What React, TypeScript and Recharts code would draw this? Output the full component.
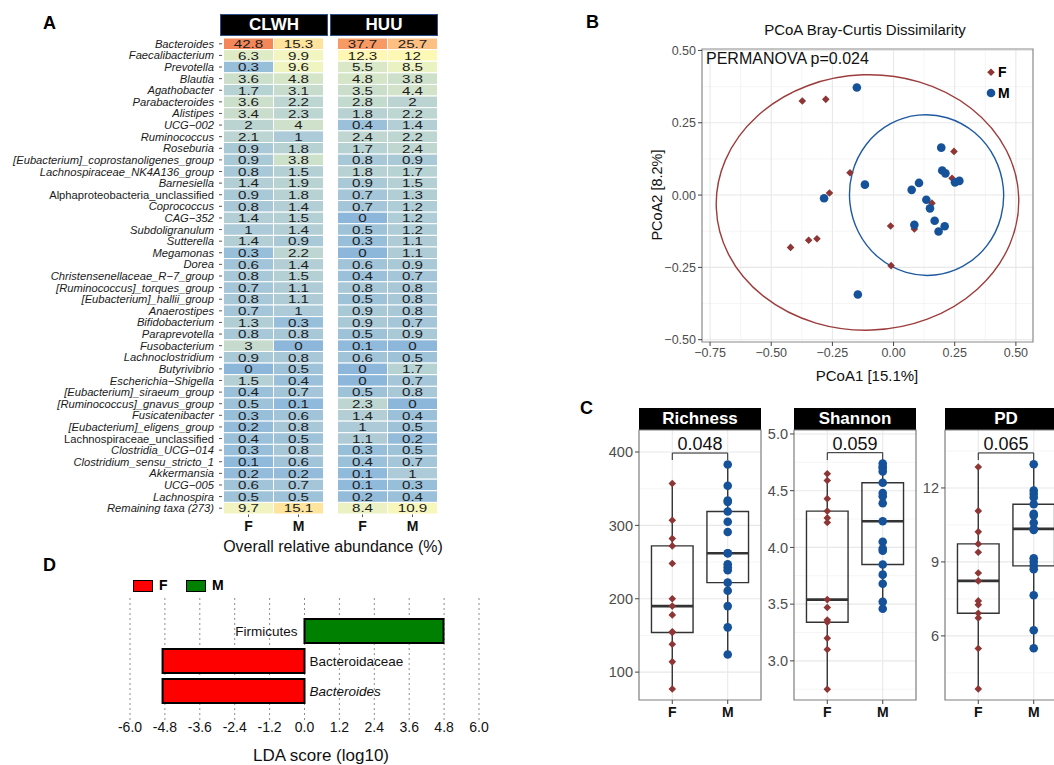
import React from 'react';
import {
  ScatterChart, Scatter, XAxis, YAxis, CartesianGrid, ReferenceArea, ReferenceLine, ReferenceDot,
  BarChart, Bar, Cell, LabelList,
} from 'recharts';

const FONT = '"Liberation Sans", Arial, Helvetica, sans-serif';

// ---------------- Panel A: heatmap data ----------------
const taxa = [
  'Bacteroides', 'Faecalibacterium', 'Prevotella', 'Blautia', 'Agathobacter', 'Parabacteroides', 'Alistipes',
  'UCG\u2212002', 'Ruminococcus', 'Roseburia', '[Eubacterium]_coprostanoligenes_group', 'Lachnospiraceae_NK4A136_group',
  'Barnesiella', 'Alphaproteobacteria_unclassified', 'Coprococcus', 'CAG\u2212352', 'Subdoligranulum', 'Sutterella',
  'Megamonas', 'Dorea', 'Christensenellaceae_R\u22127_group', '[Ruminococcus]_torques_group', '[Eubacterium]_hallii_group',
  'Anaerostipes', 'Bifidobacterium', 'Paraprevotella', 'Fusobacterium', 'Lachnoclostridium', 'Butyrivibrio',
  'Escherichia\u2212Shigella', '[Eubacterium]_siraeum_group', '[Ruminococcus]_gnavus_group', 'Fusicatenibacter',
  '[Eubacterium]_eligens_group', 'Lachnospiraceae_unclassified', 'Clostridia_UCG\u2212014', 'Clostridium_sensu_stricto_1',
  'Akkermansia', 'UCG\u2212005', 'Lachnospira', 'Remaining taxa (273)',
];
const clwhF = [42.8, 6.3, 0.3, 3.6, 1.7, 3.6, 3.4, 2, 2.1, 0.9, 0.9, 0.8, 1.4, 0.9, 0.8, 1.4, 1, 1.4, 0.3, 0.6, 0.8, 0.7, 0.8, 0.7, 1.3, 0.8, 3, 0.9, 0, 1.5, 0.4, 0.5, 0.3, 0.2, 0.4, 0.3, 0.1, 0.2, 0.6, 0.5, 9.7];
const clwhM = [15.3, 9.9, 9.6, 4.8, 3.1, 2.2, 2.3, 4, 1, 1.8, 3.8, 1.5, 1.9, 1.8, 1.4, 1.5, 1.4, 0.9, 2.2, 1.4, 1.5, 1.1, 1.1, 1, 0.3, 0.8, 0, 0.8, 0.5, 0.4, 0.7, 0.1, 0.6, 0.8, 0.5, 0.8, 0.6, 0.2, 0.7, 0.5, 15.1];
const huuF = [37.7, 12.3, 5.5, 4.8, 3.5, 2.8, 1.8, 0.4, 2.4, 1.7, 0.8, 1.8, 0.9, 0.7, 0.7, 0, 0.5, 0.3, 0, 0.6, 0.4, 0.8, 0.5, 0.9, 0.9, 0.5, 0.1, 0.6, 0, 0, 0.5, 2.3, 1.4, 1, 1.1, 0.3, 0.4, 0.1, 0.1, 0.2, 8.4];
const huuM = [25.7, 12, 8.5, 3.8, 4.4, 2, 2.2, 1.4, 2.2, 2.4, 0.9, 1.7, 1.5, 1.3, 1.2, 1.2, 1.2, 1.1, 1.1, 0.9, 0.7, 0.8, 0.8, 0.8, 0.7, 0.9, 0, 0.5, 1.7, 0.7, 0.8, 0, 0.4, 0.5, 0.2, 0.5, 0.7, 1, 0.3, 0.4, 10.9];
const heatGroups = ['CLWH', 'HUU'];
const heatSex = ['F', 'M', 'F', 'M'];
const heatColumns = [clwhF, clwhM, huuF, huuM];
const heatColumnX = [0, 1, 2.28, 3.28];
const nonItalicTaxa = ['Alphaproteobacteria_unclassified', 'Lachnospiraceae_unclassified'];

// ---------------- Panel B: PCoA ----------------
const fPC1 = [-0.373, -0.277, -0.178, -0.262, -0.421, -0.347, -0.313, -0.012, -0.010, 0.085, 0.157, 0.239, 0.247];
const fPC2 = [0.325, 0.331, 0.077, 0.007, -0.181, -0.156, -0.151, -0.107, -0.244, -0.117, -0.028, 0.058, 0.151];
const mPC1 = [-0.150, -0.117, -0.284, -0.146, 0.074, 0.104, 0.134, 0.149, 0.168, 0.085, 0.184, 0.209, 0.195, 0.199, 0.212, 0.251, 0.269];
const mPC2 = [0.372, 0.036, -0.011, -0.344, 0.018, 0.042, -0.016, -0.046, -0.089, -0.103, -0.126, -0.108, 0.164, 0.085, 0.075, 0.044, 0.049];
const pcoaTicks = [-0.75, -0.5, -0.25, 0, 0.25, 0.5];
const pcoaYTicks = [-0.5, -0.25, 0, 0.25, 0.5];
// ellipse bounding boxes [x1, x2, y1, y2]
const fEllipse = [-0.725, 0.512, -0.467, 0.416];
const mEllipse = [-0.18, 0.45, -0.278, 0.278];

// ---------------- Panel C: alpha diversity ----------------
const richF = [357, 307, 282, 272, 248, 200, 190, 178, 155, 154, 138, 114, 77];
const richM = [383, 354, 334, 332, 319, 305, 291, 262, 262, 247, 243, 239, 222, 211, 190, 161, 124];
const shanF = [4.65, 4.59, 4.43, 4.32, 4.26, 4.22, 3.54, 3.47, 3.36, 3.34, 3.20, 3.10, 2.75];
const shanM = [4.74, 4.71, 4.70, 4.67, 4.57, 4.48, 4.45, 4.39, 4.23, 4.05, 3.99, 3.97, 3.85, 3.76, 3.68, 3.52, 3.46];
const pdF = [12.85, 11.07, 10.22, 9.73, 9.39, 8.55, 8.23, 7.42, 7.26, 6.92, 6.73, 5.49, 3.85];
const pdM = [12.96, 11.89, 11.75, 11.61, 11.34, 10.95, 10.88, 10.59, 10.34, 10.30, 9.15, 9.01, 8.84, 8.70, 7.65, 6.23, 5.50];
const alphaTitles = ['Richness', 'Shannon', 'PD'];
const alphaPValues = ['0.048', '0.059', '0.065'];
const alphaBracketY = [398.6, 4.835, 13.42];
const alphaBracketDrop = [9.5, 0.065, 0.29];

// ---------------- Panel D: LEfSe ----------------
const ldaNames = ['Firmicutes', 'Bacteroidaceae', 'Bacteroides'];
const ldaScores = [4.78, -4.88, -4.88];
const ldaGroup = ['M', 'F', 'F'];
const ldaTicks = [-6, -4.8, -3.6, -2.4, -1.2, 0, 1.2, 2.4, 3.6, 4.8, 6];

// ---------------- helpers ----------------
const COL_F = '#8e3535';
const COL_M = '#16529a';

const heatStops: [number, string][] = [
  [0, '#8cb7db'], [0.3, '#98bfda'], [0.8, '#a8c8d8'], [1.5, '#b5d0d4'], [2.5, '#c0d8d0'], [3.5, '#cbdecb'],
  [5, '#d7e6c8'], [7, '#e4eec4'], [10, '#f2f5c0'], [12.2, '#fff8b4'], [15.2, '#fee39c'], [25.7, '#fdbf82'],
  [37.7, '#f89a64'], [42.8, '#f4875a'],
];
function hex(c: string) { return [1, 3, 5].map(i => parseInt(c.slice(i, i + 2), 16)); }
function heatColor(v: number) {
  for (let i = 0; i < heatStops.length - 1; i++) {
    const [a, ca] = heatStops[i];
    const [b, cb] = heatStops[i + 1];
    if (v <= b) {
      const t = Math.max(0, (v - a) / (b - a));
      const A = hex(ca), B = hex(cb);
      const m = A.map((x, k) => Math.round(x + (B[k] - x) * t));
      return `rgb(${m[0]},${m[1]},${m[2]})`;
    }
  }
  return heatStops[heatStops.length - 1][1];
}

function quantile(s: number[], p: number) {
  const h = (s.length - 1) * p;
  const lo = Math.floor(h), hi = Math.ceil(h);
  return s[lo] + (h - lo) * (s[hi] - s[lo]);
}
function boxStats(vals: number[]) {
  const s = [...vals].sort((a, b) => a - b);
  const q1 = quantile(s, 0.25), med = quantile(s, 0.5), q3 = quantile(s, 0.75);
  const iqr = q3 - q1;
  const lo = s.find(v => v >= q1 - 1.5 * iqr) as number;
  const hi = [...s].reverse().find(v => v <= q3 + 1.5 * iqr) as number;
  return { q1, med, q3, lo, hi };
}

const Diamond = (p: any) => {
  const { cx, cy } = p;
  if (cx == null || cy == null) return null;
  const r = 3.8;
  return <polygon points={`${cx},${cy - r} ${cx + r},${cy} ${cx},${cy + r} ${cx - r},${cy}`} fill={COL_F} />;
};
const Dot = (p: any) => {
  const { cx, cy } = p;
  if (cx == null || cy == null) return null;
  return <circle cx={cx} cy={cy} r={4.3} fill={COL_M} />;
};

const HeatCell = (p: any) => {
  const { cx, cy, payload } = p;
  if (cx == null || cy == null) return null;
  const w = 50, h = 476 / 41;
  return (
    <g>
      <rect x={cx - w / 2} y={cy - h / 2} width={w} height={h} fill={heatColor(payload.v)} stroke="#ffffff" strokeWidth={1} />
      <text x={0} y={0} transform={`translate(${cx} ${cy}) scale(1.32 1)`} textAnchor="middle" dy="0.37em"
        fontSize={11.5} fill="#1c1c1c" fontFamily={FONT}>{String(payload.v)}</text>
    </g>
  );
};

const TaxonTick = (p: any) => {
  const { x, y, payload } = p;
  const italic = !nonItalicTaxa.includes(payload.value);
  return (
    <text x={x} y={y} dy="0.36em" textAnchor="end" fontSize={11.2} fontStyle={italic ? 'italic' : 'normal'}
      fill="#1a1a1a" fontFamily={FONT}>{payload.value}</text>
  );
};

const abs = (style: React.CSSProperties): React.CSSProperties => ({ position: 'absolute', ...style });

// ---------------- Panel A ----------------
function PanelA() {
  const series = heatColumns.map((col, ci) => taxa.map((t, ri) => ({ x: heatColumnX[ci], taxon: t, v: col[ri] })));
  return (
    <>
      <div style={abs({ left: 43, top: 13, fontSize: 18, fontWeight: 'bold' })}>A</div>
      {heatGroups.map((g, i) => (
        <div key={g} style={abs({
          left: 220 + i * 110, top: 14, width: 106, height: 20, background: '#000', border: '1.5px solid #2d4f8c',
          color: '#fff', fontWeight: 'bold', fontSize: 17, textAlign: 'center', lineHeight: '20px',
        })}>{g}</div>
      ))}
      <div style={abs({ left: 0, top: 0 })}>
        <ScatterChart width={460} height={560} margin={{ top: 38, right: 20, bottom: 26, left: 0 }}>
          <XAxis type="number" dataKey="x" domain={[-0.53, 3.83]} ticks={heatColumnX} interval={0}
            tickFormatter={(v: number) => heatSex[heatColumnX.indexOf(v)] ?? ''} axisLine={false}
            tickLine={{ stroke: '#555' }} tickSize={3} tickMargin={4} height={20}
            tick={{ fontSize: 14, fontWeight: 'bold', fill: '#111' }} />
          <YAxis type="category" dataKey="taxon" allowDuplicatedCategory={false} reversed width={222} interval={0}
            axisLine={false} tickLine={{ stroke: '#555' }} tickSize={3} tickMargin={5} tick={<TaxonTick />} />
          {series.map((d, i) => (
            <Scatter key={i} data={d} shape={<HeatCell />} isAnimationActive={false} />
          ))}
        </ScatterChart>
      </div>
      <div style={abs({ left: 213, top: 538, width: 240, textAlign: 'center', fontSize: 16, color: '#111' })}>
        Overall relative abundance (%)
      </div>
    </>
  );
}

// ---------------- Panel B ----------------
const EllipseShape = (color: string, rot: number) => (p: any) => {
  const { x, y, width, height } = p;
  const cx = x + width / 2, cy = y + height / 2;
  return <ellipse cx={cx} cy={cy} rx={Math.abs(width) / 2} ry={Math.abs(height) / 2} fill="none" stroke={color}
    strokeWidth={1.4} transform={`rotate(${rot} ${cx} ${cy})`} />;
};

function PanelB() {
  const fData = fPC1.map((v, i) => ({ pc1: v, pc2: fPC2[i] }));
  const mData = mPC1.map((v, i) => ({ pc1: v, pc2: mPC2[i] }));
  const xd: [number, number] = [-0.783, 0.57];
  const yd: [number, number] = [-0.508, 0.505];
  const fmt = (v: number) => v.toFixed(2).replace('-', '\u2212');
  return (
    <>
      <div style={abs({ left: 586, top: 12, fontSize: 18, fontWeight: 'bold' })}>B</div>
      <div style={abs({ left: 700, top: 21, width: 330, textAlign: 'center', fontSize: 15, color: '#111' })}>
        PCoA Bray-Curtis Dissimilarity
      </div>
      <div style={abs({ left: 580, top: 0 })}>
        <ScatterChart width={474} height={395} margin={{ top: 49, right: 21, bottom: 0, left: 62 }}>
          <CartesianGrid horizontalValues={[-0.375, -0.125, 0.125, 0.375]} verticalValues={[-0.625, -0.375, -0.125, 0.125, 0.375]}
            stroke="#f2f2f2" strokeWidth={0.8} />
          <CartesianGrid horizontalValues={pcoaYTicks} verticalValues={pcoaTicks} stroke="#e8e8e8" strokeWidth={1.1} />
          <XAxis type="number" dataKey="pc1" domain={xd} ticks={pcoaTicks} interval={0} allowDataOverflow
            tickFormatter={fmt} axisLine={false} tickLine={{ stroke: '#444' }} tickSize={4} tickMargin={2} height={53}
            tick={{ fontSize: 12.5, fill: '#4d4d4d' }} />
          <YAxis type="number" dataKey="pc2" domain={yd} ticks={pcoaYTicks} interval={0} allowDataOverflow
            tickFormatter={fmt} axisLine={false} tickLine={{ stroke: '#444' }} tickSize={4} tickMargin={2} width={60}
            tick={{ fontSize: 12.5, fill: '#4d4d4d' }} />
          <ReferenceArea x1={xd[0]} x2={xd[1]} y1={yd[0]} y2={yd[1]} fill="none" fillOpacity={0} stroke="#8a8a8a" strokeWidth={1.2} />
          <ReferenceArea x1={fEllipse[0]} x2={fEllipse[1]} y1={fEllipse[2]} y2={fEllipse[3]} shape={EllipseShape('#9c3c3c', -2)} />
          <ReferenceArea x1={mEllipse[0]} x2={mEllipse[1]} y1={mEllipse[2]} y2={mEllipse[3]} shape={EllipseShape('#1f5aa0', -6)} />
          <Scatter name="F" data={fData} shape={<Diamond />} isAnimationActive={false} />
          <Scatter name="M" data={mData} shape={<Dot />} isAnimationActive={false} />
        </ScatterChart>
      </div>
      <div style={abs({ left: 706, top: 50, fontSize: 16, color: '#111' })}>PERMANOVA p=0.024</div>
      <div style={abs({ left: 985, top: 63 })}>
        <svg width={12} height={36}>
          <polygon points="6,5.5 9.8,9.3 6,13.1 2.2,9.3" fill={COL_F} />
          <circle cx={6} cy={30} r={4.3} fill={COL_M} />
        </svg>
      </div>
      <div style={abs({ left: 998, top: 63, fontSize: 14, fontWeight: 'bold', lineHeight: '18px' })}>F</div>
      <div style={abs({ left: 998, top: 84, fontSize: 14, fontWeight: 'bold', lineHeight: '18px' })}>M</div>
      <div style={abs({ left: 767, top: 367, width: 200, textAlign: 'center', fontSize: 15, color: '#111' })}>PCoA1 [15.1%]</div>
      <div style={abs({ left: 557, top: 187, width: 200, textAlign: 'center', fontSize: 14.5, color: '#111', transform: 'rotate(-90deg)' })}>PCoA2 [8.2%]</div>
    </>
  );
}

// ---------------- Panel C ----------------
type FacetProps = {
  left: number; idx: number; f: number[]; m: number[]; domain: [number, number];
  ticks: number[]; minor: number[]; fmt: (v: number) => string;
};
function Facet({ left, idx, f, m, domain, ticks, minor, fmt }: FacetProps) {
  const fs = boxStats(f), ms = boxStats(m);
  const fData = f.map(v => ({ g: 1, v }));
  const mData = m.map(v => ({ g: 2, v }));
  const yAxisW = 55;
  const by = alphaBracketY[idx], drop = alphaBracketDrop[idx];
  const boxes = [{ g: 1, s: fs }, { g: 2, s: ms }];
  return (
    <>
      <div style={abs({
        left, top: 408, width: 122, height: 22, background: '#000', color: '#fff', fontWeight: 'bold',
        fontSize: 17, textAlign: 'center', lineHeight: '22px',
      })}>{alphaTitles[idx]}</div>
      <div style={abs({ left: left - yAxisW, top: 425 })}>
        <ScatterChart width={yAxisW + 122 + 4} height={305} margin={{ top: 5, right: 4, bottom: 0, left: 0 }}>
          <CartesianGrid horizontalValues={minor} vertical={false} stroke="#f3f3f3" strokeWidth={0.8} />
          <CartesianGrid horizontalValues={ticks} verticalValues={[1, 2]} stroke="#e8e8e8" strokeWidth={1.1} />
          <XAxis type="number" dataKey="g" domain={[0.4, 2.6]} ticks={[1, 2]} interval={0}
            tickFormatter={(v: number) => (v === 1 ? 'F' : 'M')} axisLine={false} tickLine={{ stroke: '#444' }}
            tickSize={4} tickMargin={3} height={30} tick={{ fontSize: 14, fontWeight: 'bold', fill: '#111' }} />
          <YAxis type="number" dataKey="v" domain={domain} ticks={ticks} interval={0} allowDataOverflow tickFormatter={fmt}
            axisLine={false} tickLine={{ stroke: '#444' }} tickSize={4} tickMargin={2} width={yAxisW}
            tick={{ fontSize: 14.5, fill: '#4d4d4d' }} />
          <ReferenceArea x1={0.4} x2={2.6} y1={domain[0]} y2={domain[1]} fill="none" fillOpacity={0} stroke="#7f7f7f" strokeWidth={1.2} />
          {boxes.map(({ g, s }) => (
            <React.Fragment key={g}>
              <ReferenceLine segment={[{ x: g, y: s.lo }, { x: g, y: s.q1 }]} stroke="#333" strokeWidth={1.4} />
              <ReferenceLine segment={[{ x: g, y: s.q3 }, { x: g, y: s.hi }]} stroke="#333" strokeWidth={1.4} />
              <ReferenceArea x1={g - 0.375} x2={g + 0.375} y1={s.q1} y2={s.q3} fill="#ffffff" fillOpacity={0} stroke="#333" strokeWidth={1.4} />
              <ReferenceLine segment={[{ x: g - 0.375, y: s.med }, { x: g + 0.375, y: s.med }]} stroke="#333" strokeWidth={2.6} />
            </React.Fragment>
          ))}
          <ReferenceLine segment={[{ x: 1, y: by }, { x: 2, y: by }]} stroke="#222" strokeWidth={1} />
          <ReferenceLine segment={[{ x: 1, y: by }, { x: 1, y: by - drop }]} stroke="#222" strokeWidth={1} />
          <ReferenceLine segment={[{ x: 2, y: by }, { x: 2, y: by - drop }]} stroke="#222" strokeWidth={1} />
          <ReferenceDot x={1.5} y={by} r={0} fill="none" stroke="none"
            label={{ value: alphaPValues[idx], position: 'top', offset: 3, fontSize: 18, fill: '#111' }} />
          <Scatter data={fData} shape={<Diamond />} isAnimationActive={false} />
          <Scatter data={mData} shape={<Dot />} isAnimationActive={false} />
        </ScatterChart>
      </div>
    </>
  );
}

function PanelC() {
  return (
    <>
      <div style={abs({ left: 580, top: 398, fontSize: 18, fontWeight: 'bold' })}>C</div>
      <Facet left={639} idx={0} f={richF} m={richM} domain={[62, 430]} ticks={[100, 200, 300, 400]} minor={[150, 250, 350]}
        fmt={(v) => String(v)} />
      <Facet left={794} idx={1} f={shanF} m={shanM} domain={[2.655, 5.035]} ticks={[3, 3.5, 4, 4.5, 5]}
        minor={[2.75, 3.25, 3.75, 4.25, 4.75]} fmt={(v) => v.toFixed(1)} />
      <Facet left={945} idx={2} f={pdF} m={pdM} domain={[3.4, 14.35]} ticks={[6, 9, 12]} minor={[4.5, 7.5, 10.5, 13.5]}
        fmt={(v) => String(v)} />
    </>
  );
}

// ---------------- Panel D ----------------
const LdaLabel = (p: any) => {
  const { x, y, width, height, index } = p;
  const score = ldaScores[index];
  const left = Math.min(x, x + width), right = Math.max(x, x + width);
  const pos = score >= 0;
  const tx = pos ? left - 7 : right + 5;
  return (
    <text x={tx} y={y + height / 2} dy="0.36em" textAnchor={pos ? 'end' : 'start'} fontSize={13.5}
      fontStyle={ldaNames[index] === 'Bacteroides' ? 'italic' : 'normal'} fill="#111" fontFamily={FONT}>
      {ldaNames[index]}
    </text>
  );
};

function PanelD() {
  const data = ldaNames.map((n, i) => ({ name: n, score: ldaScores[i], group: ldaGroup[i] }));
  return (
    <>
      <div style={abs({ left: 43, top: 555, fontSize: 18, fontWeight: 'bold' })}>D</div>
      <div style={abs({ left: 133, top: 580, width: 18, height: 10, background: '#ff0000', border: '1.5px solid #000' })} />
      <div style={abs({ left: 159, top: 577, fontSize: 14, fontWeight: 'bold' })}>F</div>
      <div style={abs({ left: 186, top: 580, width: 18, height: 10, background: '#008000', border: '1.5px solid #000' })} />
      <div style={abs({ left: 212, top: 577, fontSize: 14, fontWeight: 'bold' })}>M</div>
      <div style={abs({ left: 100, top: 590 })}>
        <BarChart width={420} height={150} layout="vertical" data={data} margin={{ top: 8, right: 41, bottom: 0, left: 30 }}>
          <CartesianGrid vertical horizontal={false} strokeDasharray="2 3" stroke="#8c8c8c" />
          <XAxis type="number" domain={[-6, 6]} ticks={ldaTicks} interval={0} tickFormatter={(v: number) => v.toFixed(1)}
            axisLine={false} tickLine={false} tickSize={0} tickMargin={2} height={20} tick={{ fontSize: 14, fill: '#111' }} />
          <YAxis type="category" dataKey="name" hide padding={{ top: 18, bottom: 14 }} />
          <Bar dataKey="score" barSize={24} stroke="#000" strokeWidth={2} isAnimationActive={false}>
            {data.map((d, i) => (
              <Cell key={i} fill={d.group === 'F' ? '#ff0000' : '#008000'} />
            ))}
            <LabelList dataKey="score" content={<LdaLabel />} />
          </Bar>
        </BarChart>
      </div>
      <div style={abs({ left: 221, top: 746, width: 200, textAlign: 'center', fontSize: 17, color: '#111' })}>LDA score (log10)</div>
    </>
  );
}

export default function App() {
  return (
    <div style={{
      position: 'absolute', left: 0, top: 0, width: 1054, height: 765, overflow: 'hidden', background: '#fff',
      fontFamily: FONT, color: '#000',
    }}>
      <PanelA />
      <PanelB />
      <PanelC />
      <PanelD />
    </div>
  );
}
